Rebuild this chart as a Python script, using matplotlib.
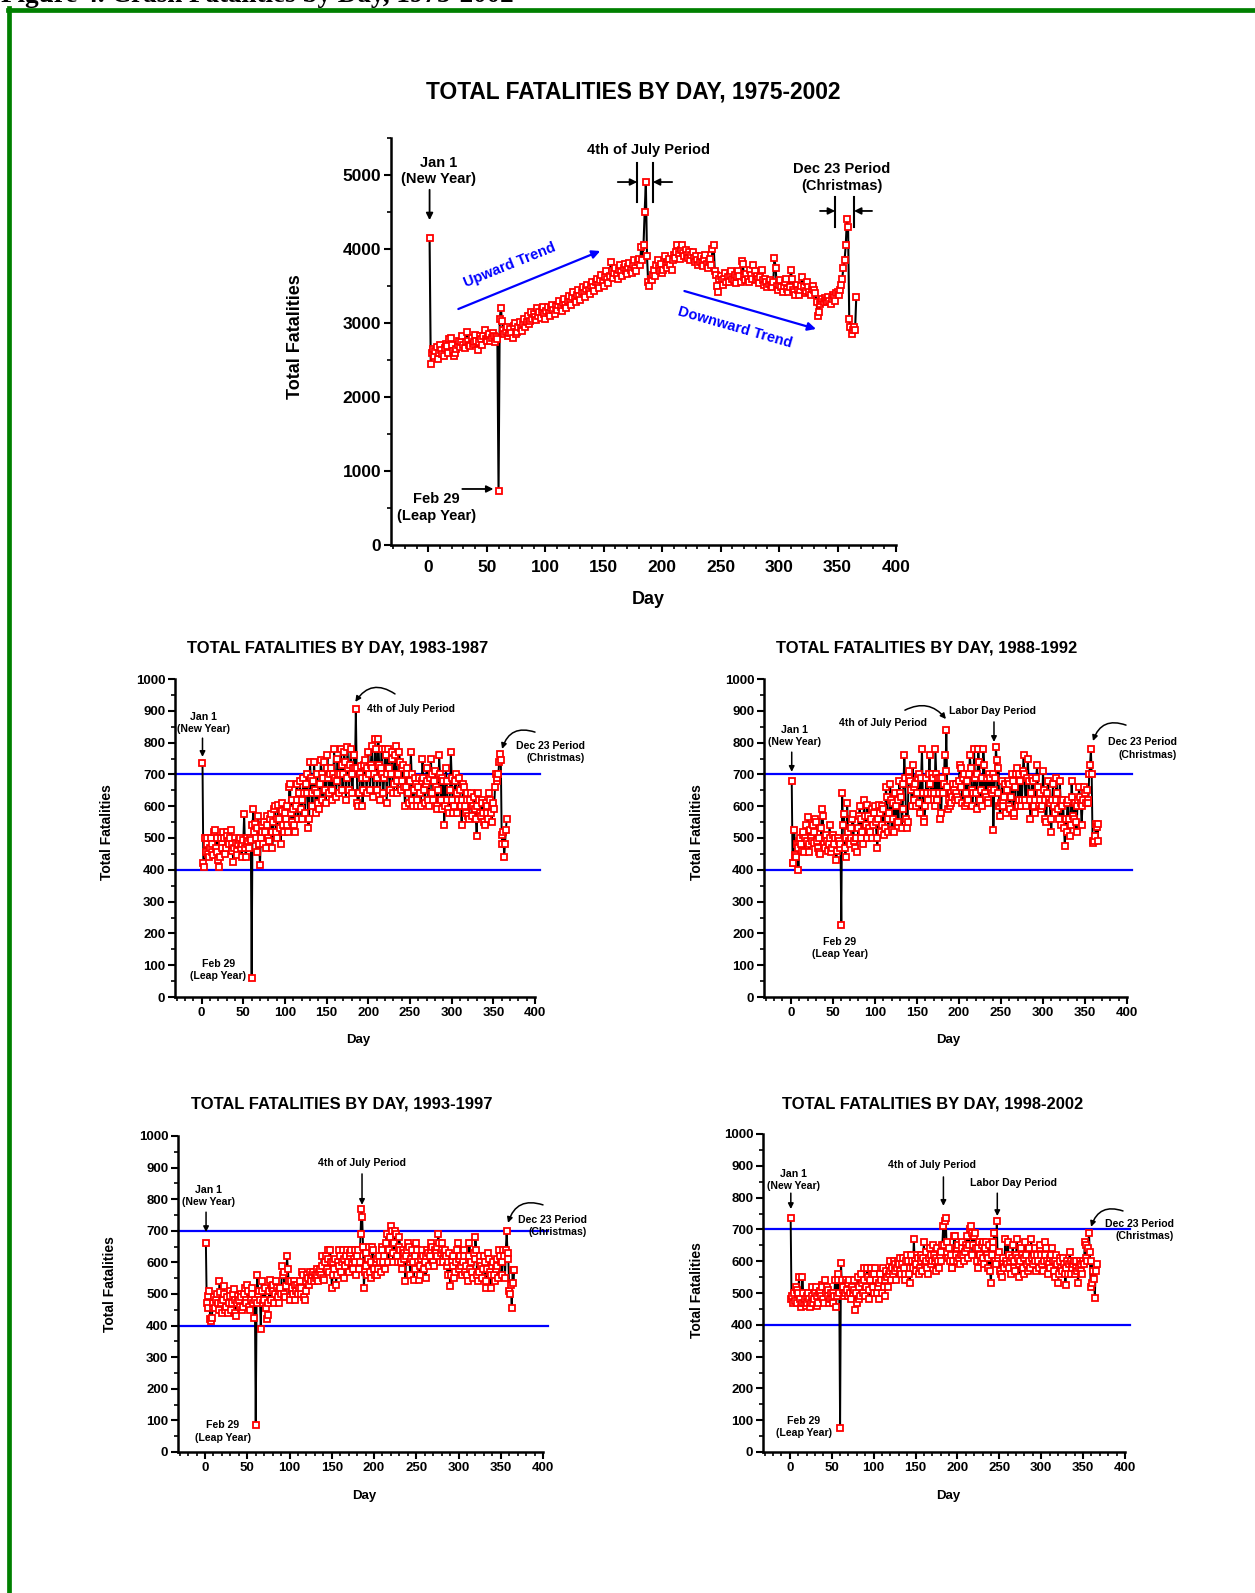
import matplotlib
matplotlib.use("Agg")
import matplotlib.pyplot as plt
import numpy as np
from matplotlib.lines import Line2D
from matplotlib.ticker import MultipleLocator

plt.rcParams['font.family'] = ['Liberation Sans', 'DejaVu Sans']
plt.rcParams['font.weight'] = 'bold'

# total fatalities per day of year (day 1 = Jan 1, day 60 = Feb 29)
fat_1975_2002 = [
    4150, 2450, 2600, 2650, 2550, 2620, 2680,
    2520, 2600, 2700, 2640, 2580, 2560, 2660,
    2720, 2690, 2600, 2780, 2800, 2700, 2620,
    2560, 2590, 2650, 2700, 2760, 2680, 2740,
    2820, 2700, 2660, 2740, 2880, 2760, 2700,
    2690, 2800, 2720, 2750, 2840, 2760, 2640,
    2750, 2830, 2780, 2700, 2820, 2900, 2780,
    2760, 2820, 2850, 2760, 2800, 2870, 2830,
    2750, 2810, 2780, 730, 3050, 3200, 3030,
    2900, 2850, 2880, 2950, 2820, 2860, 2920,
    2870, 2800, 2960, 3000, 2850, 2880, 2940,
    3010, 2930, 2890, 2980, 3060, 2950, 3010,
    3100, 2990, 3030, 3150, 3060, 3120, 3080,
    3040, 3200, 3100, 3150, 3070, 3180, 3220,
    3120, 3050, 3160, 3220, 3140, 3090, 3200,
    3250, 3170, 3120, 3230, 3180, 3250, 3300,
    3220, 3160, 3270, 3330, 3250, 3200, 3300,
    3360, 3280, 3240, 3350, 3420, 3330, 3290,
    3380, 3450, 3370, 3310, 3420, 3480, 3400,
    3350, 3460, 3520, 3440, 3390, 3500, 3560,
    3480, 3430, 3560, 3600, 3520, 3470, 3580,
    3650, 3550, 3500, 3620, 3700, 3600, 3540,
    3640, 3820, 3700, 3610, 3680, 3740, 3650,
    3600, 3720, 3780, 3690, 3640, 3750, 3800,
    3700, 3660, 3760, 3810, 3720, 3680, 3790,
    3850, 3740, 3700, 3820, 3870, 3780, 4030,
    3850, 4050, 4500, 4900, 3900, 3550, 3500,
    3600, 3580, 3650, 3720, 3640, 3780, 3850,
    3750, 3700, 3800, 3680, 3720, 3900, 3780,
    3740, 3820, 3860, 3780, 3720, 3850, 3920,
    3880, 3960, 4050, 3930, 3870, 3980, 4060,
    3950, 3900, 3990, 3920, 3880, 3960, 3850,
    3920, 3960, 3880, 3820, 3900, 3850, 3780,
    3830, 3900, 3810, 3770, 3860, 3920, 3800,
    3750, 3840, 3870, 3780, 4000, 4050, 3700,
    3650, 3500, 3420, 3600, 3640, 3580, 3520,
    3600, 3680, 3550, 3620, 3560, 3650, 3700,
    3600, 3580, 3650, 3540, 3620, 3700, 3640,
    3560, 3840, 3800, 3620, 3580, 3660, 3600,
    3550, 3720, 3650, 3600, 3780, 3700, 3580,
    3640, 3600, 3540, 3620, 3720, 3580, 3520,
    3600, 3550, 3480, 3530, 3580, 3520, 3480,
    3550, 3880, 3750, 3500, 3450, 3520, 3580,
    3480, 3420, 3500, 3560, 3600, 3460, 3420,
    3480, 3720, 3600, 3450, 3420, 3380, 3520,
    3440, 3380, 3450, 3500, 3620, 3480, 3400,
    3430, 3550, 3480, 3420, 3380, 3460, 3500,
    3450, 3400, 3280, 3100, 3150, 3260, 3300,
    3320, 3280, 3340, 3310, 3290, 3350, 3300,
    3260, 3320, 3380, 3350, 3300, 3400, 3420,
    3380, 3450, 3520, 3600, 3750, 3850, 4050,
    4400, 4300, 3050, 2950, 2850, 2900, 2950,
    2900, 3350]

fat_1983_1987 = [
    735, 420, 410, 500, 455, 480, 500,
    450, 440, 470, 500, 480, 455, 445,
    520, 525, 470, 455, 500, 430, 410,
    440, 500, 480, 470, 520, 500, 450,
    470, 520, 505, 490, 480, 500, 525,
    480, 460, 425, 470, 500, 485, 460,
    445, 480, 495, 500, 470, 440, 480,
    495, 575, 470, 440, 480, 500, 490,
    470, 500, 495, 60, 540, 590, 520,
    545, 500, 455, 530, 570, 480, 415,
    500, 520, 540, 480, 550, 520, 470,
    540, 570, 500, 490, 560, 575, 520,
    470, 550, 590, 600, 520, 500, 560,
    605, 560, 530, 480, 585, 610, 540,
    520, 580, 560, 600, 540, 520, 660,
    670, 580, 550, 620, 590, 540, 520,
    600, 670, 620, 560, 640, 680, 590,
    560, 620, 690, 640, 580, 670, 700,
    640, 530, 560, 740, 690, 640, 600,
    680, 740, 650, 580, 640, 700, 610,
    590, 670, 745, 700, 620, 690, 740,
    650, 610, 720, 760, 690, 640, 700,
    720, 650, 620, 700, 780, 690, 630,
    680, 750, 700, 640, 700, 780, 730,
    650, 700, 770, 740, 620, 690, 785,
    720, 650, 730, 780, 700, 640, 720,
    760, 720, 905, 720, 610, 600, 640,
    700, 725, 690, 600, 650, 730, 745,
    690, 640, 720, 770, 700, 650, 730,
    790, 720, 630, 700, 810, 780, 650,
    690, 810, 730, 620, 720, 780, 700,
    640, 690, 780, 760, 610, 700, 780,
    720, 650, 700, 770, 750, 640, 670,
    760, 790, 680, 640, 700, 770, 740,
    650, 680, 720, 730, 660, 600, 660,
    720, 700, 640, 610, 680, 770, 700,
    620, 600, 650, 690, 670, 620, 600,
    660, 690, 640, 600, 680, 750, 690,
    650, 610, 670, 720, 680, 620, 600,
    690, 750, 700, 640, 620, 680, 710,
    660, 600, 590, 650, 760, 700, 620,
    590, 690, 680, 540, 600, 720, 680,
    620, 590, 580, 650, 770, 690, 620,
    580, 600, 680, 700, 640, 580, 620,
    690, 650, 600, 540, 620, 670, 660,
    600, 580, 640, 620, 570, 560, 620,
    640, 600, 570, 600, 630, 590, 560,
    505, 600, 640, 620, 580, 570, 620,
    610, 580, 550, 540, 610, 600, 580,
    560, 640, 620, 580, 550, 600, 610,
    590, 660, 700, 680, 690, 700, 740,
    765, 745, 510, 480, 520, 440, 480,
    525, 560]

fat_1988_1992 = [
    680, 420, 420, 525, 445, 440, 480,
    470, 400, 490, 500, 480, 460, 510,
    520, 455, 500, 540, 490, 565, 480,
    455, 525, 500, 490, 540, 520, 485,
    560, 550, 490, 470, 500, 455, 450,
    530, 590, 570, 480, 500, 470, 510,
    490, 460, 480, 540, 500, 455, 470,
    510, 480, 500, 500, 430, 460, 500,
    490, 470, 480, 225, 640, 540, 575,
    470, 440, 500, 610, 520, 490, 480,
    530, 500, 560, 575, 490, 470, 500,
    500, 455, 530, 570, 600, 500, 560,
    520, 480, 620, 570, 540, 500, 605,
    570, 530, 520, 560, 590, 500, 540,
    580, 600, 550, 500, 470, 560, 605,
    580, 520, 540, 600, 590, 510, 530,
    660, 630, 560, 520, 580, 670, 620,
    525, 610, 560, 520, 640, 600, 550,
    620, 550, 680, 640, 630, 530, 590,
    670, 760, 690, 560, 530, 550, 690,
    710, 680, 650, 600, 730, 660, 620,
    670, 600, 640, 690, 700, 610, 580,
    690, 780, 640, 560, 550, 600, 690,
    640, 620, 700, 760, 670, 640, 700,
    690, 640, 600, 780, 700, 620, 690,
    640, 690, 560, 580, 690, 640, 670,
    760, 710, 840, 660, 590, 620, 600,
    640, 610, 630, 670, 650, 620, 640,
    670, 630, 620, 680, 730, 720, 660,
    610, 690, 700, 600, 640, 680, 610,
    620, 700, 760, 720, 650, 600, 640,
    780, 690, 640, 590, 700, 780, 740,
    620, 650, 690, 600, 780, 730, 640,
    630, 690, 620, 610, 700, 690, 650,
    640, 700, 525, 650, 690, 785, 745,
    640, 720, 600, 570, 610, 680, 600,
    620, 630, 670, 580, 650, 680, 670,
    600, 590, 630, 700, 680, 570, 580,
    660, 700, 720, 600, 620, 700, 680,
    600, 620, 710, 760, 700, 620, 600,
    690, 750, 680, 620, 560, 640, 690,
    680, 600, 580, 620, 690, 730, 660,
    600, 640, 620, 590, 600, 710, 650,
    620, 560, 550, 640, 680, 620, 610,
    560, 520, 620, 670, 600, 580, 620,
    690, 640, 590, 560, 680, 620, 540,
    600, 620, 530, 475, 560, 520, 610,
    620, 560, 505, 540, 680, 630, 570,
    560, 610, 550, 520, 600, 620, 660,
    630, 610, 540, 600, 620, 660, 640,
    610, 650, 620, 610, 700, 730, 780,
    700, 490, 485, 490, 505, 545, 535,
    490, 545]

fat_1993_1997 = [
    660, 470, 455, 495, 510, 420, 415,
    425, 460, 470, 490, 455, 480, 500,
    470, 450, 540, 505, 470, 440, 480,
    525, 500, 450, 460, 490, 440, 470,
    510, 495, 450, 470, 500, 515, 480,
    440, 430, 470, 495, 480, 460, 500,
    490, 450, 460, 500, 520, 480, 470,
    530, 510, 460, 450, 480, 520, 500,
    470, 425, 480, 85, 470, 560, 500,
    510, 480, 390, 540, 510, 470, 480,
    520, 455, 420, 435, 470, 510, 545,
    480, 520, 510, 530, 470, 500, 540,
    520, 490, 470, 510, 520, 500, 590,
    560, 570, 500, 490, 525, 620, 580,
    540, 490, 480, 540, 520, 500, 540,
    530, 480, 510, 530, 500, 520, 540,
    500, 520, 570, 560, 490, 480, 510,
    540, 560, 550, 530, 570, 550, 540,
    560, 570, 540, 560, 550, 580, 560,
    540, 570, 580, 560, 620, 590, 550,
    545, 600, 620, 580, 640, 610, 570,
    640, 600, 520, 560, 600, 580, 610,
    530, 560, 600, 590, 640, 620, 570,
    600, 640, 610, 550, 590, 620, 640,
    600, 570, 620, 630, 640, 600, 580,
    610, 640, 600, 560, 620, 640, 580,
    600, 690, 770, 745, 650, 520, 570,
    630, 590, 560, 610, 650, 570, 550,
    600, 650, 640, 580, 560, 600, 610,
    560, 580, 620, 600, 570, 650, 640,
    600, 620, 580, 660, 690, 640, 600,
    640, 680, 715, 700, 630, 600, 660,
    700, 690, 620, 600, 650, 680, 640,
    600, 580, 640, 630, 610, 540, 620,
    640, 660, 650, 600, 560, 610, 640,
    600, 545, 580, 620, 660, 640, 600,
    545, 560, 590, 610, 640, 620, 580,
    600, 550, 620, 640, 630, 590, 620,
    640, 660, 650, 600, 590, 640, 630,
    620, 650, 690, 660, 600, 630, 640,
    660, 600, 630, 640, 620, 590, 560,
    600, 630, 525, 560, 600, 620, 590,
    550, 570, 600, 640, 660, 610, 580,
    620, 590, 560, 600, 640, 620, 570,
    590, 560, 540, 620, 660, 580, 600,
    570, 550, 630, 610, 680, 640, 560,
    540, 570, 620, 600, 590, 550, 580,
    620, 600, 520, 540, 580, 630, 610,
    570, 520, 560, 590, 600, 560, 540,
    580, 610, 590, 550, 640, 620, 600,
    560, 600, 640, 620, 550, 640, 700,
    630, 610, 510, 500, 530, 455, 575,
    535, 575]

fat_1998_2002 = [
    735, 480, 490, 470, 500, 475, 520,
    510, 470, 500, 550, 480, 455, 470,
    550, 500, 470, 480, 460, 490, 470,
    500, 480, 455, 470, 520, 490, 470,
    480, 500, 520, 460, 490, 470, 500,
    505, 490, 525, 520, 480, 470, 540,
    500, 520, 510, 490, 470, 480, 500,
    480, 500, 470, 490, 540, 455, 490,
    560, 540, 500, 75, 595, 540, 510,
    520, 490, 500, 540, 510, 490, 530,
    540, 500, 480, 520, 500, 510, 540,
    445, 500, 470, 550, 480, 520, 490,
    560, 530, 500, 580, 540, 490, 520,
    580, 550, 510, 480, 540, 580, 560,
    520, 500, 560, 580, 540, 500, 520,
    480, 530, 560, 540, 500, 580, 520,
    490, 540, 570, 550, 520, 560, 600,
    570, 540, 580, 560, 600, 590, 570,
    540, 580, 600, 590, 610, 570, 560,
    590, 610, 580, 540, 560, 600, 620,
    600, 560, 530, 580, 620, 600, 580,
    670, 600, 570, 590, 620, 610, 560,
    580, 620, 600, 570, 610, 660, 590,
    600, 630, 580, 560, 610, 640, 620,
    590, 600, 650, 620, 600, 570, 610,
    640, 600, 580, 620, 630, 600, 650,
    710, 650, 725, 735, 660, 630, 610,
    640, 600, 620, 580, 580, 600, 680,
    680, 620, 600, 640, 650, 610, 590,
    620, 640, 660, 620, 600, 630, 650,
    640, 680, 610, 650, 700, 710, 690,
    620, 650, 680, 690, 640, 600, 580,
    640, 660, 620, 600, 650, 660, 610,
    590, 640, 660, 620, 580, 610, 650,
    570, 530, 620, 640, 660, 690, 600,
    590, 725, 610, 620, 630, 570, 560,
    550, 600, 610, 580, 670, 600, 590,
    660, 620, 580, 600, 560, 610, 650,
    600, 580, 570, 620, 670, 610, 550,
    590, 600, 640, 620, 580, 560, 610,
    660, 620, 590, 570, 640, 600, 580,
    670, 610, 590, 620, 640, 600, 570,
    620, 600, 580, 640, 650, 620, 590,
    570, 600, 620, 660, 640, 600, 560,
    590, 610, 580, 620, 640, 600, 570,
    550, 600, 620, 590, 530, 560, 610,
    600, 580, 570, 610, 590, 560, 525,
    580, 600, 560, 590, 630, 600, 560,
    580, 590, 600, 560, 580, 600, 570,
    530, 580, 600, 590, 570, 560, 600,
    590, 660, 650, 610, 600, 640, 690,
    630, 520, 600, 530, 570, 545, 485,
    570, 590]

sub_titles = ['TOTAL FATALITIES BY DAY, 1983-1987', 'TOTAL FATALITIES BY DAY, 1988-1992',
              'TOTAL FATALITIES BY DAY, 1993-1997', 'TOTAL FATALITIES BY DAY, 1998-2002']
sub_data = [fat_1983_1987, fat_1988_1992, fat_1993_1997, fat_1998_2002]

W, H = 1255, 1593
fig = plt.figure(figsize=(W / 100, H / 100), dpi=100)


def fx(px):
    return px / W


def fy(py):
    return 1 - py / H


def box(left, top, right, bottom):
    return [fx(left), fy(bottom), fx(right) - fx(left), (bottom - top) / H]


def style_axis(ax, ymax, ymaj, ymin_step, fs, xpad=2):
    ax.set_xlim(-32, 400)
    ax.set_ylim(0, ymax)
    ax.xaxis.set_minor_locator(MultipleLocator(10))
    ax.yaxis.set_major_locator(MultipleLocator(ymaj))
    ax.yaxis.set_minor_locator(MultipleLocator(ymin_step))
    ax.set_xticks(np.arange(0, 401, 50))
    for s in ['top', 'right']:
        ax.spines[s].set_visible(False)
    for s in ['left', 'bottom']:
        ax.spines[s].set_linewidth(1.8)
    ax.tick_params(which='major', direction='out', length=5, width=1.5, labelsize=fs, pad=2)
    ax.tick_params(axis='x', which='major', pad=xpad)
    ax.tick_params(which='minor', direction='out', length=3, width=1.2)
    for lab in ax.get_xticklabels() + ax.get_yticklabels():
        lab.set_fontweight('bold')
    ax.patch.set_alpha(0)


def draw_series(ax, vals, lw=1.4):
    days = np.arange(1, len(vals) + 1)
    ax.plot(days, vals, color='black', lw=lw, zorder=2)
    ax.plot(days, vals, ls='none', marker='s', ms=4.2, mfc='white', mec='red', mew=1.3, zorder=3)


def arrow(ax, start, end, rad=0.0, ms=10, lw=1.3):
    ax.annotate('', xy=end, xytext=start, annotation_clip=False,
                arrowprops=dict(arrowstyle='-|>', color='black', lw=lw, mutation_scale=ms,
                                shrinkA=0, shrinkB=0, connectionstyle='arc3,rad=%s' % rad))


# page frame and cut-off caption
fig.add_artist(Line2D([fx(9), fx(9)], [fy(8), 0], transform=fig.transFigure, color='green', lw=3.4))
fig.add_artist(Line2D([fx(7.5), 1], [fy(10), fy(10)], transform=fig.transFigure, color='green', lw=3.4))
fig.text(fx(1), fy(2.5), 'Figure 4. Crash Fatalities by Day, 1975-2002', family='Liberation Serif',
         fontsize=19.5, fontweight='bold', va='baseline', ha='left')

# ---- main chart 1975-2002
ax = fig.add_axes(box(391, 138, 896, 545))
draw_series(ax, fat_1975_2002, lw=1.5)
style_axis(ax, 5500, 1000, 500, 12.5, xpad=6)
fig.text(fx(633), fy(92), 'TOTAL FATALITIES BY DAY, 1975-2002', fontsize=16.4, fontweight='bold',
         ha='center', va='center')
fig.text(fx(295), fy(337), 'Total Fatalities', fontsize=13, fontweight='bold', rotation=90,
         ha='center', va='center')
fig.text(fx(648), fy(600), 'Day', fontsize=13, fontweight='bold', ha='center', va='center')

afs = 10.5
ax.text(8.5, 5054, 'Jan 1\n(New Year)', fontsize=afs, ha='center', va='center', linespacing=1.25)
arrow(ax, (1, 4800), (1, 4390))
ax.text(188, 5338, '4th of July Period', fontsize=afs, ha='center', va='center')
for d in [178.6, 192]:
    ax.plot([d, d], [4635, 5160], color='black', lw=1.5, clip_on=False)
arrow(ax, (162, 4905), (178.6, 4905))
arrow(ax, (208.5, 4905), (192, 4905))
ax.text(353.8, 4966, 'Dec 23 Period\n(Christmas)', fontsize=afs, ha='center', va='center', linespacing=1.25)
for d in [347.9, 364.1]:
    ax.plot([d, d], [4297, 4703], color='black', lw=1.5, clip_on=False)
arrow(ax, (335, 4514), (347.9, 4514))
arrow(ax, (379.5, 4514), (364.1, 4514))
ax.text(6.8, 507, 'Feb 29\n(Leap Year)', fontsize=afs, ha='center', va='center', linespacing=1.25)
arrow(ax, (29, 757), (55.6, 757))
ax.annotate('', xy=(147, 3973), xytext=(25.6, 3189),
            arrowprops=dict(arrowstyle='-|>', color='blue', lw=1.6, mutation_scale=12, shrinkA=0, shrinkB=0))
ax.text(70, 3784, 'Upward Trend', color='blue', fontsize=10.5, rotation=22, ha='center', va='center')
ax.annotate('', xy=(331.6, 2919), xytext=(219, 3432),
            arrowprops=dict(arrowstyle='-|>', color='blue', lw=1.6, mutation_scale=12, shrinkA=0, shrinkB=0))
ax.text(262, 2946, 'Downward Trend', color='blue', fontsize=10.5, rotation=-16, ha='center', va='center')

# ---- four 5-year panels
boxes = [(175, 679, 535, 997), (764, 679, 1127, 997), (178, 1136, 543, 1452), (763, 1134, 1125, 1452)]
title_pos = [(338, 648), (927, 648), (342, 1104), (933, 1104)]
ylab_pos = [(107, 832), (697, 832), (110, 1284), (697, 1290)]
day_pos = [(358, 1040), (948, 1040), (364, 1496), (948, 1496)]

sfs = 7.6
axes = []
for i in range(4):
    a = fig.add_axes(box(*boxes[i]))
    a.axhline(700, xmin=0, xmax=1.015, color='blue', lw=1.6, zorder=1, clip_on=False)
    a.axhline(400, xmin=0, xmax=1.015, color='blue', lw=1.6, zorder=1, clip_on=False)
    draw_series(a, sub_data[i])
    style_axis(a, 1000, 100, 50, 9.5)
    fig.text(fx(title_pos[i][0]), fy(title_pos[i][1]), sub_titles[i], fontsize=11.9, fontweight='bold',
             ha='center', va='center')
    fig.text(fx(ylab_pos[i][0]), fy(ylab_pos[i][1]), 'Total Fatalities', fontsize=10, fontweight='bold',
             rotation=90, ha='center', va='center')
    fig.text(fx(day_pos[i][0]), fy(day_pos[i][1]), 'Day', fontsize=9.5, fontweight='bold',
             ha='center', va='center')
    axes.append(a)

# 1983-1987
a = axes[0]
a.text(2.4, 862, 'Jan 1\n(New Year)', fontsize=sfs, ha='center', va='center', linespacing=1.3)
arrow(a, (1, 814), (1, 755), ms=8, lw=1.1)
a.text(199, 906, '4th of July Period', fontsize=sfs, ha='left', va='center')
arrow(a, (232, 953), (184.4, 928), rad=0.5, ms=8, lw=1.1)
a.text(460, 770, 'Dec 23 Period\n(Christmas)', fontsize=sfs, ha='right', va='center', linespacing=1.3)
arrow(a, (400, 833), (360.5, 780), rad=0.5, ms=8, lw=1.1)
a.text(20, 85, 'Feb 29\n(Leap Year)', fontsize=sfs, ha='center', va='center', linespacing=1.3)

# 1988-1992
a = axes[1]
a.text(4.8, 821, 'Jan 1\n(New Year)', fontsize=sfs, ha='center', va='center', linespacing=1.3)
arrow(a, (1, 770), (1, 708), ms=8, lw=1.1)
a.text(109.5, 862, '4th of July Period', fontsize=sfs, ha='center', va='center')
arrow(a, (135.7, 902), (184.5, 874), rad=-0.4, ms=8, lw=1.1)
a.text(240.5, 899, 'Labor Day Period', fontsize=sfs, ha='center', va='center')
arrow(a, (241.7, 865), (241.7, 802), ms=8, lw=1.1)
a.text(459.5, 781, 'Dec 23 Period\n(Christmas)', fontsize=sfs, ha='right', va='center', linespacing=1.3)
arrow(a, (398.8, 855), (359.5, 805), rad=0.5, ms=8, lw=1.1)
a.text(58.3, 154, 'Feb 29\n(Leap Year)', fontsize=sfs, ha='center', va='center', linespacing=1.3)

# 1993-1997
a = axes[2]
a.text(3.6, 810, 'Jan 1\n(New Year)', fontsize=sfs, ha='center', va='center', linespacing=1.3)
arrow(a, (1.2, 759), (1.2, 696), ms=8, lw=1.1)
a.text(185.8, 915, '4th of July Period', fontsize=sfs, ha='center', va='center')
arrow(a, (185.8, 880), (185.8, 782), ms=8, lw=1.1)
a.text(452, 715, 'Dec 23 Period\n(Christmas)', fontsize=sfs, ha='right', va='center', linespacing=1.3)
arrow(a, (400, 782), (358.6, 725), rad=0.5, ms=8, lw=1.1)
a.text(21.3, 65, 'Feb 29\n(Leap Year)', fontsize=sfs, ha='center', va='center', linespacing=1.3)

# 1998-2002
a = axes[3]
a.text(4.8, 855, 'Jan 1\n(New Year)', fontsize=sfs, ha='center', va='center', linespacing=1.3)
arrow(a, (1.2, 814), (1.2, 764), ms=8, lw=1.1)
a.text(170, 902, '4th of July Period', fontsize=sfs, ha='center', va='center')
arrow(a, (183.3, 865), (183.3, 774), ms=8, lw=1.1)
a.text(266.7, 846, 'Labor Day Period', fontsize=sfs, ha='center', va='center')
arrow(a, (247.6, 814), (247.6, 742), ms=8, lw=1.1)
a.text(458, 698, 'Dec 23 Period\n(Christmas)', fontsize=sfs, ha='right', va='center', linespacing=1.3)
arrow(a, (397.6, 758), (359.5, 708), rad=0.5, ms=8, lw=1.1)
a.text(16.7, 79, 'Feb 29\n(Leap Year)', fontsize=sfs, ha='center', va='center', linespacing=1.3)

fig.savefig('out.png', dpi=100)
